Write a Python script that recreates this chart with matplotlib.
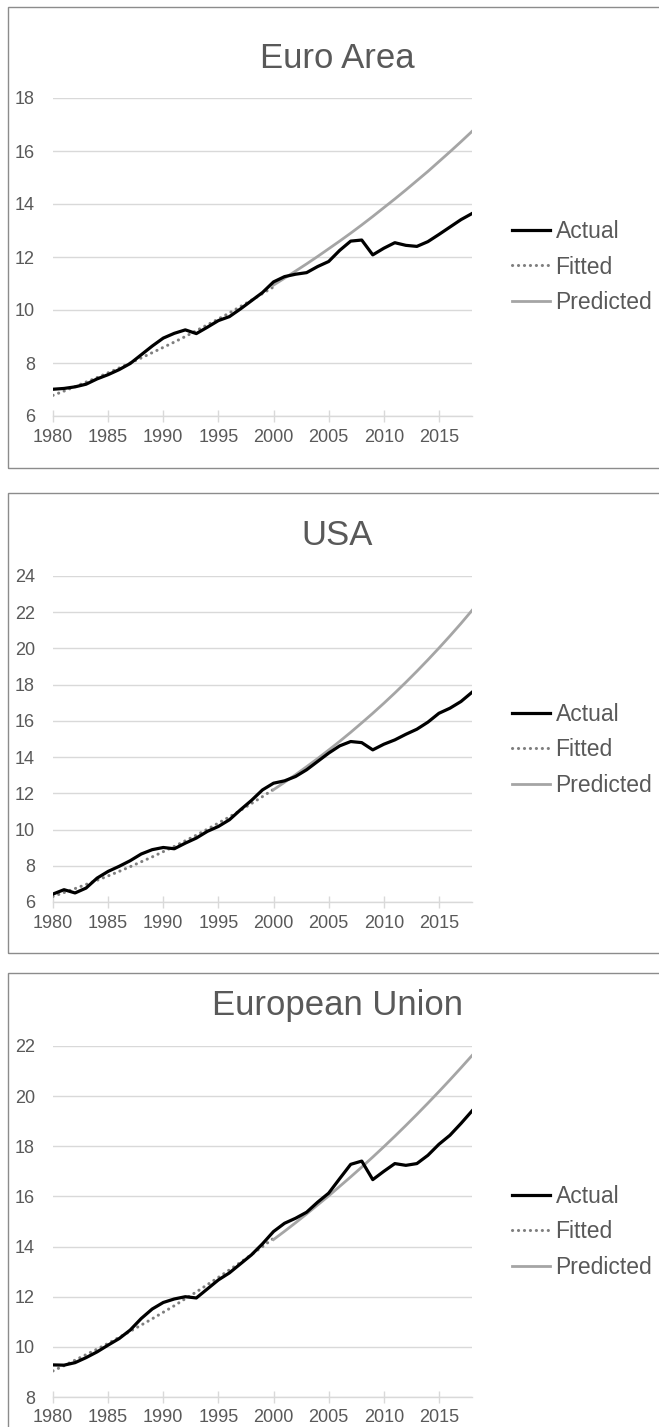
import matplotlib.pyplot as plt
from matplotlib.patches import Rectangle

plt.rcParams['font.family'] = ['Liberation Sans', 'DejaVu Sans']

years_act = list(range(1980, 2019))
years_fit = list(range(1980, 2001))
years_pred = list(range(2000, 2019))

# Euro Area
ea_actual = [7.01, 7.04, 7.10, 7.20, 7.40, 7.56, 7.75, 7.98, 8.31, 8.64,
             8.94, 9.12, 9.25, 9.11, 9.35, 9.60, 9.75, 10.04, 10.35, 10.66,
             11.06, 11.26, 11.35, 11.41, 11.64, 11.83, 12.25, 12.60, 12.64, 12.08,
             12.33, 12.54, 12.44, 12.40, 12.58, 12.85, 13.13, 13.41, 13.64]
ea_fitted = [6.78, 6.94, 7.11, 7.28, 7.45, 7.63, 7.81, 8.00, 8.19, 8.39,
             8.59, 8.79, 9.00, 9.22, 9.44, 9.66, 9.89, 10.13, 10.37, 10.62, 10.87]
ea_pred = [10.94, 11.20, 11.47, 11.74, 12.02, 12.31, 12.60, 12.90, 13.21, 13.53,
           13.86, 14.19, 14.53, 14.88, 15.23, 15.60, 15.97, 16.35, 16.74]

# USA
us_actual = [6.44, 6.68, 6.50, 6.77, 7.32, 7.69, 7.97, 8.28, 8.65, 8.89,
             9.01, 8.94, 9.25, 9.53, 9.90, 10.17, 10.54, 11.09, 11.61, 12.19,
             12.56, 12.69, 12.93, 13.30, 13.76, 14.22, 14.62, 14.86, 14.80, 14.40,
             14.71, 14.95, 15.26, 15.54, 15.93, 16.42, 16.70, 17.07, 17.58]
us_fitted = [6.31, 6.52, 6.74, 6.97, 7.20, 7.44, 7.69, 7.95, 8.22, 8.49,
             8.78, 9.07, 9.38, 9.69, 10.02, 10.36, 10.70, 11.06, 11.44, 11.82, 12.22]
us_pred = [12.20, 12.61, 13.03, 13.47, 13.92, 14.39, 14.87, 15.37, 15.89, 16.42,
           16.97, 17.54, 18.13, 18.74, 19.37, 20.02, 20.69, 21.38, 22.10]

# European Union
eu_actual = [9.28, 9.27, 9.37, 9.57, 9.80, 10.07, 10.33, 10.67, 11.13, 11.51,
             11.77, 11.91, 12.00, 11.95, 12.31, 12.67, 12.95, 13.31, 13.67, 14.11,
             14.60, 14.93, 15.13, 15.37, 15.77, 16.13, 16.71, 17.28, 17.41, 16.67,
             17.00, 17.31, 17.24, 17.31, 17.64, 18.08, 18.44, 18.91, 19.41]
eu_fitted = [9.04, 9.25, 9.47, 9.69, 9.91, 10.14, 10.38, 10.62, 10.87, 11.12,
             11.38, 11.64, 11.92, 12.19, 12.48, 12.77, 13.07, 13.37, 13.68, 14.00, 14.33]
eu_pred = [14.28, 14.61, 14.95, 15.30, 15.66, 16.02, 16.40, 16.78, 17.17, 17.57,
           17.98, 18.40, 18.83, 19.27, 19.72, 20.18, 20.65, 21.13, 21.62]

titles = ['Euro Area', 'USA', 'European Union']
y_ranges = [(6, 18), (6, 24), (8, 22)]

W, H = 659, 1427
fig = plt.figure(figsize=(W / 100, H / 100), dpi=100)

# pixel positions: frame (top, bottom), plot area (top, bottom), title y, legend y
frames = [(7, 468), (493, 953), (973, 1440)]
plots = [(98, 416), (576, 902), (1046, 1397)]
title_y = [58, 536, 1005]
legend_y = [267, 750, 1232]

grey_txt = '#595959'
grid_c = '#D9D9D9'

series = [(ea_actual, ea_fitted, ea_pred),
          (us_actual, us_fitted, us_pred),
          (eu_actual, eu_fitted, eu_pred)]

for i in range(3):
    ft, fb = frames[i]
    fig.patches.append(Rectangle((8 / W, 1 - fb / H), 1.0, (fb - ft) / H,
                                 transform=fig.transFigure, fill=False,
                                 edgecolor='#8C8C8C', linewidth=1.0))
    pt, pb = plots[i]
    ax = fig.add_axes([53 / W, 1 - pb / H, 419 / W, (pb - pt) / H])
    act, fit, pred = series[i]
    ax.plot(years_fit, fit, color='#7F7F7F', linewidth=2.2,
            linestyle=(0, (0.05, 1.9)), dash_capstyle='round', label='Fitted')
    ax.plot(years_pred, pred, color='#A5A5A5', linewidth=2.0, label='Predicted')
    ax.plot(years_act, act, color='black', linewidth=2.3, label='Actual')

    lo, hi = y_ranges[i]
    ax.set_xlim(1980, 2018)
    ax.set_ylim(lo, hi)
    ax.set_yticks(range(lo, hi + 1, 2))
    ax.set_xticks(range(1980, 2016, 5))
    ax.grid(axis='y', color=grid_c, linewidth=1.0)
    ax.set_axisbelow(True)
    for s in ['top', 'right', 'left']:
        ax.spines[s].set_visible(False)
    ax.spines['bottom'].set_color(grid_c)
    ax.spines['bottom'].set_linewidth(1.0)
    ax.tick_params(axis='y', length=0, pad=13, labelsize=13, labelcolor=grey_txt)
    ax.tick_params(axis='x', direction='inout', length=8, color=grid_c, width=1.0,
                   pad=5, labelsize=13, labelcolor=grey_txt)

    fig.text(337 / W, 1 - title_y[i] / H, titles[i], ha='center', va='center',
             fontsize=25, color=grey_txt)

    h, l = ax.get_legend_handles_labels()
    order = [2, 0, 1]
    ax.legend([h[k] for k in order], [l[k] for k in order],
              loc='center left', bbox_to_anchor=(512 / W, 1 - legend_y[i] / H),
              bbox_transform=fig.transFigure, frameon=False, fontsize=16.5,
              labelcolor=grey_txt, handlelength=1.65, handletextpad=0.25,
              labelspacing=0.55, borderpad=0, borderaxespad=0)

fig.savefig('out.png', dpi=100)
